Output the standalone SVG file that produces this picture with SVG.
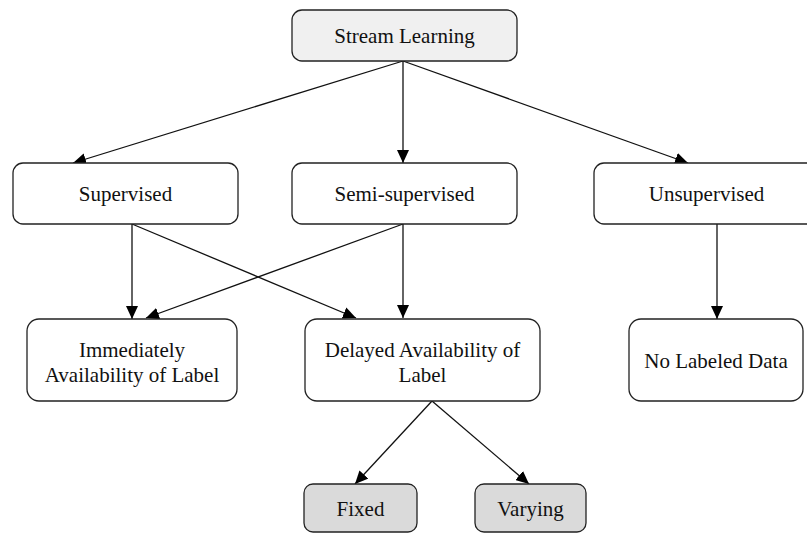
<svg xmlns="http://www.w3.org/2000/svg" width="807" height="534" viewBox="0 0 807 534">
<style>
.box{fill:#ffffff;stroke:#222;stroke-width:1.3}
.root{fill:#f0f0f0}
.leaf{fill:#dadada}
text{font-family:"Liberation Serif","Times New Roman",serif;font-size:21px;fill:#111;text-anchor:middle}
.edge{stroke:#111;stroke-width:1.3;fill:none;marker-end:url(#arr)}
</style>
<defs>
<marker id="arr" markerUnits="userSpaceOnUse" markerWidth="14" markerHeight="12" refX="13" refY="6" orient="auto">
<path d="M0,0 L13,6 L0,12 Z" fill="#000"/>
</marker>
</defs>
<rect width="807" height="534" fill="#ffffff"/>
<g id="connectors">
<line class="edge" x1="403" y1="61" x2="73" y2="163"/>
<line class="edge" x1="403" y1="61" x2="403" y2="163"/>
<line class="edge" x1="403" y1="61" x2="688" y2="163"/>
<line class="edge" x1="132" y1="224" x2="132" y2="319"/>
<line class="edge" x1="132" y1="224" x2="356" y2="318"/>
<line class="edge" x1="403" y1="224" x2="146" y2="318"/>
<line class="edge" x1="403" y1="224" x2="403" y2="318"/>
<line class="edge" x1="717" y1="224" x2="717" y2="319"/>
<line class="edge" x1="432" y1="401" x2="355" y2="484"/>
<line class="edge" x1="432" y1="401" x2="529" y2="484"/>
</g>
<g id="stream-learning">
<rect class="box root" x="292" y="10" width="225" height="51" rx="10"/>
<text x="404.5" y="43">Stream Learning</text>
</g>
<g id="supervised">
<rect class="box" x="13" y="163" width="225" height="61" rx="10"/>
<text x="125.5" y="201">Supervised</text>
</g>
<g id="semi-supervised">
<rect class="box" x="292" y="163" width="225" height="61" rx="10"/>
<text x="404.5" y="201">Semi-supervised</text>
</g>
<g id="unsupervised">
<rect class="box" x="594" y="163" width="225" height="61" rx="10"/>
<text x="706.5" y="201">Unsupervised</text>
</g>
<g id="immediately">
<rect class="box" x="27" y="319" width="210" height="82" rx="12"/>
<text x="132" y="357">Immediately</text>
<text x="132" y="382">Availability of Label</text>
</g>
<g id="delayed">
<rect class="box" x="305" y="319" width="235" height="82" rx="12"/>
<text x="422.5" y="357">Delayed Availability of</text>
<text x="422.5" y="382">Label</text>
</g>
<g id="no-labeled">
<rect class="box" x="629" y="319" width="174" height="82" rx="12"/>
<text x="716" y="368">No Labeled Data</text>
</g>
<g id="fixed">
<rect class="box leaf" x="304" y="484" width="113" height="48" rx="9"/>
<text x="360.5" y="516">Fixed</text>
</g>
<g id="varying">
<rect class="box leaf" x="475" y="484" width="111" height="48" rx="9"/>
<text x="530.5" y="516">Varying</text>
</g>
</svg>
